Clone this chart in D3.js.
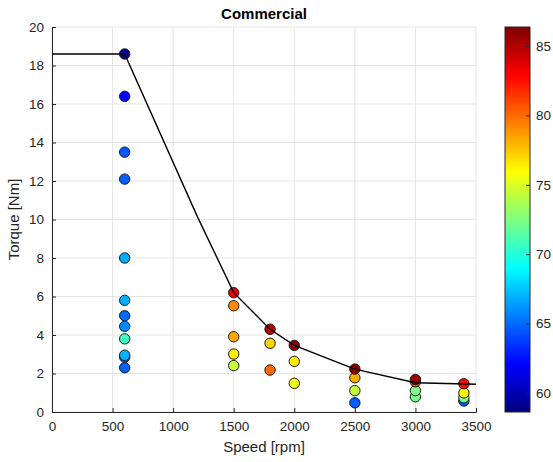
<!DOCTYPE html>
<html><head><meta charset="utf-8">
<script src="https://cdn.jsdelivr.net/npm/d3@7"></script>
<style>body{margin:0;background:#fff}svg text{font-family:"Liberation Sans",Arial,sans-serif;fill:#262626}</style>
</head><body><svg id="c" width="553" height="462"></svg>
<script>
// Measured operating points
const speeds = [600,600,600,600,600,600,600,600,600,600,600,600,
  1500,1500,1500,1500,1500, 1800,1800,1800, 2000,2000,2000,
  2500,2500,2500,2500, 3000,3000,3000,3000, 3400,3400,3400,3400];
const torques = [18.6,16.4,13.5,12.1,8.0,5.8,5.0,4.45,3.8,2.95,2.85,2.3,
  6.2,5.52,3.91,3.01,2.41, 4.3,3.57,2.18, 3.46,2.63,1.49,
  2.23,1.78,1.11,0.48, 1.69,1.57,1.11,0.79, 1.47,0.99,0.74,0.57];
const efficiency = [59.0,61.8,64.5,64.7,66.8,66.8,65.0,65.8,70.7,67.0,64.0,64.7,
  83.5,79.1,78.3,76.4,74.5, 84.7,77.1,80.1, 86.1,76.5,75.6,
  86.2,78.2,74.3,64.6, 85.6,80.7,72.5,72.3, 82.8,76.3,72.3,64.5];
// Max torque envelope
const envSpeed = [0,600,1200,1500,1800,2000,2500,3000,3500];
const envTorque = [18.6,18.6,10.15,6.2,4.3,3.46,2.23,1.52,1.44];
const xTicks = [0,500,1000,1500,2000,2500,3000,3500];
const yTicks = [0,2,4,6,8,10,12,14,16,18,20];
const cTicks = [60,65,70,75,80,85];
const cDomain = [58.63,86.37];

function jet(t){
  const c = v=>Math.max(0,Math.min(1,v));
  const r=c(1.5-Math.abs(4*t-3)), g=c(1.5-Math.abs(4*t-2)), b=c(1.5-Math.abs(4*t-1));
  return d3.rgb(r*255,g*255,b*255).toString();
}
const svg = d3.select("#c");
const L=52,R=476,T=27,B=412;
const x = d3.scaleLinear().domain([0,3500]).range([L,R]);
const y = d3.scaleLinear().domain([0,20]).range([B,T]);
const cs = d3.scaleLinear().domain(cDomain).range([0,1]);
const col = v=>jet(Math.max(0,Math.min(1,cs(v))));

// grid
const g = svg.append("g");
g.selectAll(".gx").data(xTicks).join("line").attr("x1",d=>x(d)).attr("x2",d=>x(d)).attr("y1",T).attr("y2",B).attr("stroke","#e5e5e5").attr("stroke-width",1);
g.selectAll(".gy").data(yTicks).join("line").attr("y1",d=>y(d)).attr("y2",d=>y(d)).attr("x1",L).attr("x2",R).attr("stroke","#e5e5e5").attr("stroke-width",1);

// axes
const xa = svg.append("g").attr("transform",`translate(0,${B})`).call(d3.axisBottom(x).tickValues(xTicks).tickSize(-4).tickPadding(9).tickFormat(d3.format("d")));
const ya = svg.append("g").attr("transform",`translate(${L},0)`).call(d3.axisLeft(y).tickValues(yTicks).tickSize(-4).tickPadding(8).tickFormat(d3.format("d")));
[xa,ya].forEach(a=>{a.select(".domain").attr("stroke","#262626");a.selectAll(".tick line").attr("stroke","#262626");a.selectAll("text").attr("font-size",13.5).attr("fill","#262626").style("font-family","'Liberation Sans',Arial,sans-serif");});

// points
const pts = speeds.map((s,i)=>({s,t:torques[i],e:efficiency[i]})).sort((a,b)=>a.t-b.t);
svg.append("g").selectAll("circle").data(pts).join("circle")
  .attr("cx",d=>x(d.s)).attr("cy",d=>y(d.t)).attr("r",5.2)
  .attr("fill",d=>col(d.e)).attr("stroke","#1a1a1a").attr("stroke-width",1);

// envelope line
svg.append("path").datum(envSpeed.map((s,i)=>[s,envTorque[i]]))
  .attr("d",d3.line().x(d=>x(d[0])).y(d=>y(d[1])))
  .attr("fill","none").attr("stroke","#000").attr("stroke-width",1.4);

// title & labels
svg.append("text").attr("x",(L+R)/2).attr("y",19).attr("text-anchor","middle").attr("font-size",15).attr("font-weight","bold").style("fill","#000").text("Commercial");
svg.append("text").attr("x",(L+R)/2).attr("y",452).attr("text-anchor","middle").attr("font-size",15).text("Speed [rpm]");
svg.append("text").attr("transform",`translate(19,${(T+B)/2}) rotate(-90)`).attr("text-anchor","middle").attr("font-size",15).text("Torque [Nm]");

// colorbar
const CL=505,CW=25;
const cy = d3.scaleLinear().domain(cDomain).range([B,T]);
const defs = svg.append("defs");
const grad = defs.append("linearGradient").attr("id","jetg").attr("x1",0).attr("y1",1).attr("x2",0).attr("y2",0);
const nStops = d3.range(0,65);
grad.selectAll("stop").data(nStops).join("stop").attr("offset",d=>d/64).attr("stop-color",d=>jet(d/64));
svg.append("rect").attr("x",CL).attr("y",T).attr("width",CW).attr("height",B-T).attr("fill","url(#jetg)").attr("stroke","#262626").attr("stroke-width",1);
const ca = svg.append("g").attr("transform",`translate(${CL+CW},0)`).call(d3.axisRight(cy).tickValues(cTicks).tickSize(-4).tickPadding(6));
ca.select(".domain").remove();
ca.selectAll(".tick line").attr("stroke","#262626");
ca.selectAll("text").attr("font-size",13.5).attr("fill","#262626").style("font-family","'Liberation Sans',Arial,sans-serif");
</script></body></html>
